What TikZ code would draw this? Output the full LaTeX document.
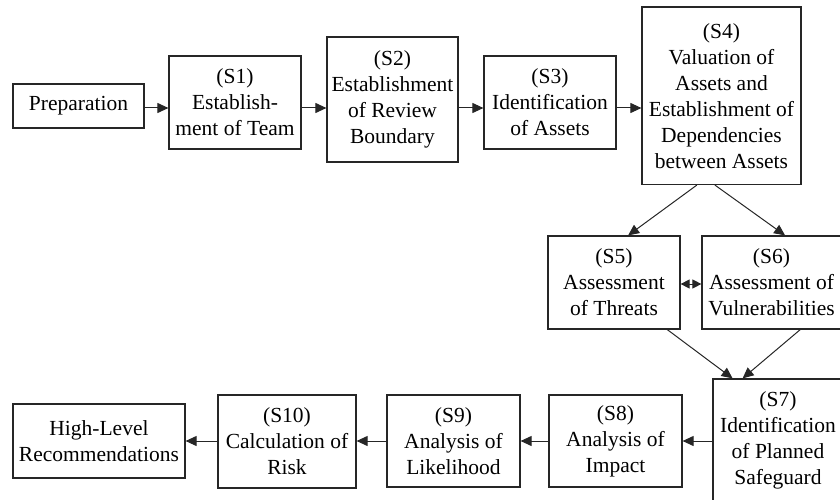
\documentclass[tikz,border=0pt]{standalone}
\usepackage{fontspec}
\setmainfont{Liberation Serif}
\usetikzlibrary{arrows.meta,calc}
\begin{document}
\begin{tikzpicture}[x=1pt,y=-1pt,
 box/.style={draw=black!85, line width=1.2pt, inner sep=0pt, align=center, font=\fontsize{21.5}{26}\selectfont},
 arr/.style={draw=black!85, line width=1pt, -{Triangle[length=11pt,width=10pt]}},
 dbl/.style={draw=black!85, line width=1pt, {Triangle[length=9pt,width=9pt]}-{Triangle[length=9pt,width=9pt]}}]
\useasboundingbox (0,0) rectangle (840,500);
\clip (0,0) rectangle (840,500);
\node[box, minimum width=131pt, minimum height=44pt] (prep) at (78.5,106) {Preparation};
\node[box, minimum width=132pt, minimum height=93pt] (s1) at (235,102.5) {(S1)\\Establish-\\ment of Team};
\node[box, minimum width=131pt, minimum height=125pt] (s2) at (392.5,99.5) {(S2)\\Establishment\\of Review\\Boundary};
\node[box, minimum width=132pt, minimum height=93pt] (s3) at (550,102.5) {(S3)\\Identification\\of Assets};
\node[box, minimum width=159pt, minimum height=177.5pt] (s4) at (721.5,95.75) {(S4)\\Valuation of\\Assets and\\Establishment of\\Dependencies\\between Assets};
\node[box, minimum width=132pt, minimum height=93pt] (s5) at (614,282.5) {(S5)\\Assessment\\of Threats};
\node[box, minimum width=139pt, minimum height=93pt] (s6) at (771.5,282.5) {(S6)\\Assessment of\\Vulnerabilities};
\node[box, minimum width=130pt, minimum height=123pt] (s7) at (778,440.5) {(S7)\\Identification\\of Planned\\Safeguard};
\node[box, minimum width=133pt, minimum height=92pt] (s8) at (615.5,441) {(S8)\\Analysis of\\Impact};
\node[box, minimum width=133pt, minimum height=92pt] (s9) at (453.5,441) {(S9)\\Analysis of\\Likelihood};
\node[box, minimum width=138pt, minimum height=93pt] (s10) at (287,441.5) {(S10)\\Calculation of\\Risk};
\node[box, minimum width=172pt, minimum height=74pt] (hlr) at (99,441) {High-Level\\Recommendations};
\coordinate (ya) at (0,108);
\coordinate (yb) at (0,441);
\coordinate (yc) at (0,284);
\draw[arr] (prep.east |- ya) -- (s1.west |- ya);
\draw[arr] (s1.east |- ya) -- (s2.west |- ya);
\draw[arr] (s2.east |- ya) -- (s3.west |- ya);
\draw[arr] (s3.east |- ya) -- (s4.west |- ya);
\draw[arr] ($(s4.south west)!0.346!(s4.south east)$) -- ($(s5.north west)!0.606!(s5.north east)$);
\draw[arr] ($(s4.south west)!0.459!(s4.south east)$) -- ($(s6.north west)!0.597!(s6.north east)$);
\draw[dbl] (s5.east |- yc) -- (s6.west |- yc);
\draw[arr] ($(s5.south west)!0.90!(s5.south east)$) -- ($(s7.north west)!0.154!(s7.north east)$);
\draw[arr] ($(s6.south west)!0.705!(s6.south east)$) -- ($(s7.north west)!0.23!(s7.north east)$);
\draw[arr] (s7.west |- yb) -- (s8.east |- yb);
\draw[arr] (s8.west |- yb) -- (s9.east |- yb);
\draw[arr] (s9.west |- yb) -- (s10.east |- yb);
\draw[arr] (s10.west |- yb) -- (hlr.east |- yb);
\end{tikzpicture}
\end{document}
